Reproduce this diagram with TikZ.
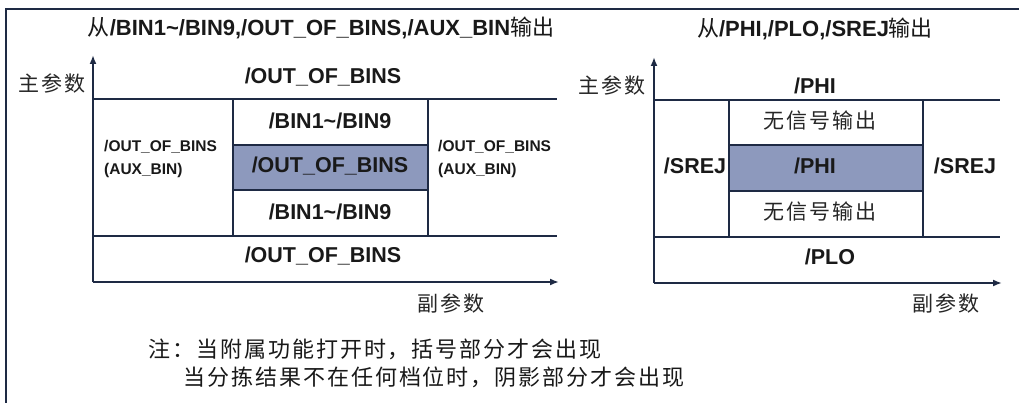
\documentclass[tikz,border=0pt]{standalone}
\usepackage{fontspec}
\setmainfont{Liberation Sans}
\newfontfamily\cjk{Noto Sans CJK SC}
\newfontfamily\cjksp{Noto Sans CJK SC}[LetterSpace=9]
\usetikzlibrary{arrows.meta}
\definecolor{navy}{HTML}{1E2A44}
\definecolor{shadefill}{HTML}{8D99BD}
\newcommand{\cjr}[1]{{\mdseries\cjk #1}}
\begin{document}
\begin{tikzpicture}[x=1pt,y=-1pt,
  line/.style={navy, line width=1.8pt},
  axis/.style={navy, line width=1.8pt, -{Latex[length=9pt,width=7pt]}},
  lbl/.style={font=\bfseries\fontsize{21.5}{24}\selectfont, inner sep=0pt, text=black!90},
  small/.style={font=\bfseries\fontsize{15.5}{23}\selectfont, align=left, inner sep=0pt, anchor=west, text=black!90},
  cj/.style={font=\cjksp\fontsize{21}{24}\selectfont, inner sep=0pt, text=black!85},
  note/.style={font=\cjksp\fontsize{22}{24}\selectfont, inner sep=0pt, anchor=west, text=black!90},
  ttl/.style={font=\bfseries\fontsize{22}{24}\selectfont, inner sep=0pt, text=black!90}]
\useasboundingbox (0,0) rectangle (1019,403);
\fill[white] (0,0) rectangle (1019,403);
% outer frame
\draw[navy, line width=1.5pt] (6,403) -- (6,9) -- (1019,9);

% ===== left diagram =====
\fill[shadefill] (233,145) rectangle (428,190);
\draw[line] (93,99) -- (557,99);
\draw[line] (93,236) -- (557,236);
\draw[line] (233,99) -- (233,236);
\draw[line] (428,99) -- (428,236);
\draw[line] (233,145) -- (428,145);
\draw[line] (233,190) -- (428,190);
\coordinate (lo) at (93,282);
\coordinate (ly) at (93,55);
\coordinate (lx) at (559,282);
\draw[axis] (lo) -- (ly);
\draw[axis] (lo) -- (lx);

\node[ttl] (ltitle) at (321,28) {\cjr{从}/BIN1\textasciitilde/BIN9,/OUT\_OF\_BINS,/AUX\_BIN\cjr{输出}};
\node[cj] (lmain) at (52,84) {主参数};
\node[cj] (lsub) at (451,303) {副参数};
\node[lbl] (ltop) at (323,77) {/OUT\_OF\_BINS};
\node[lbl] (lbin1) at (330,121) {/BIN1\textasciitilde/BIN9};
\node[lbl] (lmid) at (330,166) {/OUT\_OF\_BINS};
\node[lbl] (lbin2) at (330,212) {/BIN1\textasciitilde/BIN9};
\node[lbl] (lbot) at (323,256) {/OUT\_OF\_BINS};
\node[small] (lleft) at (104,159) {/OUT\_OF\_BINS\\(AUX\_BIN)};
\node[small] (lright) at (438,159) {/OUT\_OF\_BINS\\(AUX\_BIN)};

% ===== right diagram =====
\fill[shadefill] (729,145) rectangle (923,191);
\draw[line] (654,100) -- (1000,100);
\draw[line] (654,237) -- (1000,237);
\draw[line] (729,100) -- (729,237);
\draw[line] (923,100) -- (923,237);
\draw[line] (729,145) -- (923,145);
\draw[line] (729,191) -- (923,191);
\coordinate (ro) at (654,283);
\coordinate (ry) at (654,57);
\coordinate (rx) at (1002,283);
\draw[axis] (ro) -- (ry);
\draw[axis] (ro) -- (rx);

\node[ttl] (rtitle) at (815,29) {\cjr{从}/PHI,/PLO,/SREJ\cjr{输出}};
\node[cj] (rmain) at (612,86) {主参数};
\node[cj] (rsub) at (946,303) {副参数};
\node[lbl] (rtop) at (815,86) {/PHI};
\node[cj] (rnone1) at (820,121) {无信号输出};
\node[lbl] (rmid) at (815,166) {/PHI};
\node[cj] (rnone2) at (820,212) {无信号输出};
\node[lbl] (rbot) at (830,257) {/PLO};
\node[lbl] (rleft) at (695,166) {/SREJ};
\node[lbl] (rright) at (965,166) {/SREJ};

% ===== notes =====
\node[note] (note1) at (148,349) {注：当附属功能打开时，括号部分才会出现};
\node[note] (note2) at (183,377) {当分拣结果不在任何档位时，阴影部分才会出现};
\end{tikzpicture}
\end{document}
